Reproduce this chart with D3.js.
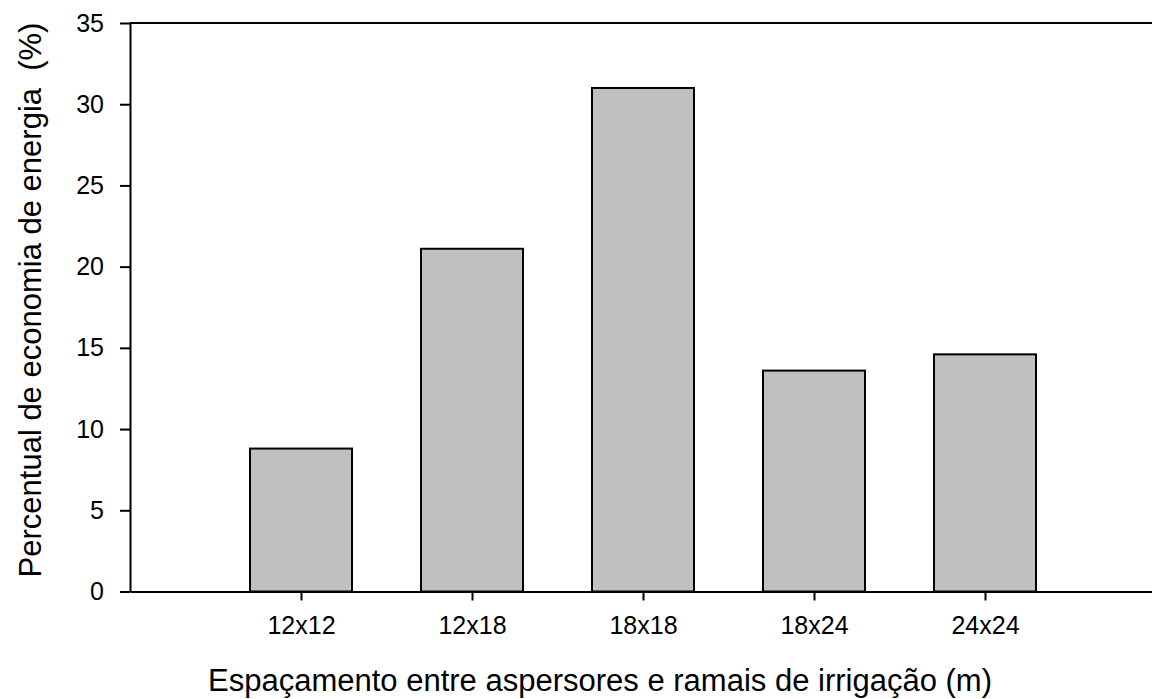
<!DOCTYPE html>
<html><head><meta charset="utf-8">
<script src="https://cdn.jsdelivr.net/npm/d3@7"></script>
<style>body{margin:0;background:#fff}svg{display:block}text{font-family:"Liberation Sans",Arial,sans-serif;fill:#000}</style>
</head><body>
<svg id="chart" width="1152" height="699"></svg>
<script>
const categories = ["12x12","12x18","18x18","18x24","24x24"];
const values = [8.8, 21.1, 31.0, 13.6, 14.6];
const yTicks = [0,5,10,15,20,25,30,35];

const svg = d3.select("#chart");
const mLeft = 130, mTop = 23, mBottom = 591.5;
const x = d3.scaleLinear().domain([0, 6]).range([mLeft, mLeft + 171*6]);
const y = d3.scaleLinear().domain([0, 35]).range([mBottom, mTop]);
const barW = 102;

svg.selectAll("rect.bar").data(values).join("rect")
  .attr("class","bar")
  .attr("x",(d,i)=>x(i+1)-barW/2)
  .attr("y",d=>y(d))
  .attr("width",barW)
  .attr("height",d=>y(0)-y(d))
  .attr("fill","#c0c0c0").attr("stroke","#000").attr("stroke-width",2);

const yAxis = svg.append("g").attr("transform",`translate(${mLeft},0)`)
  .call(d3.axisLeft(y).tickValues(yTicks).tickSize(10).tickPadding(16).tickSizeOuter(0));
yAxis.attr("font-size",null).attr("font-family",null);
yAxis.select(".domain").attr("stroke-width",2);
yAxis.selectAll(".tick line").attr("stroke-width",2);
yAxis.selectAll("text").style("font-size","25px");

const xAxis = svg.append("g").attr("transform",`translate(0,${mBottom})`)
  .call(d3.axisBottom(x).tickValues([1,2,3,4,5]).tickFormat(i=>categories[i-1]).tickSize(9).tickPadding(16).tickSizeOuter(0));
xAxis.attr("font-size",null).attr("font-family",null);
xAxis.select(".domain").attr("stroke-width",2.2);
xAxis.selectAll(".tick line").attr("stroke-width",2);
xAxis.selectAll("text").style("font-size","25px");

svg.append("line").attr("x1",mLeft).attr("x2",1152).attr("y1",mTop).attr("y2",mTop).attr("stroke","#000").attr("stroke-width",2);

svg.append("text").attr("x",600).attr("y",691).attr("text-anchor","middle")
  .style("font-size","31px").text("Espaçamento entre aspersores e ramais de irrigação (m)");
svg.append("text").attr("transform","translate(41,300) rotate(-90)").attr("text-anchor","middle")
  .style("font-size","31px").style("white-space","pre").text("Percentual de economia de energia\u00A0 (%)");
</script>
</body></html>
